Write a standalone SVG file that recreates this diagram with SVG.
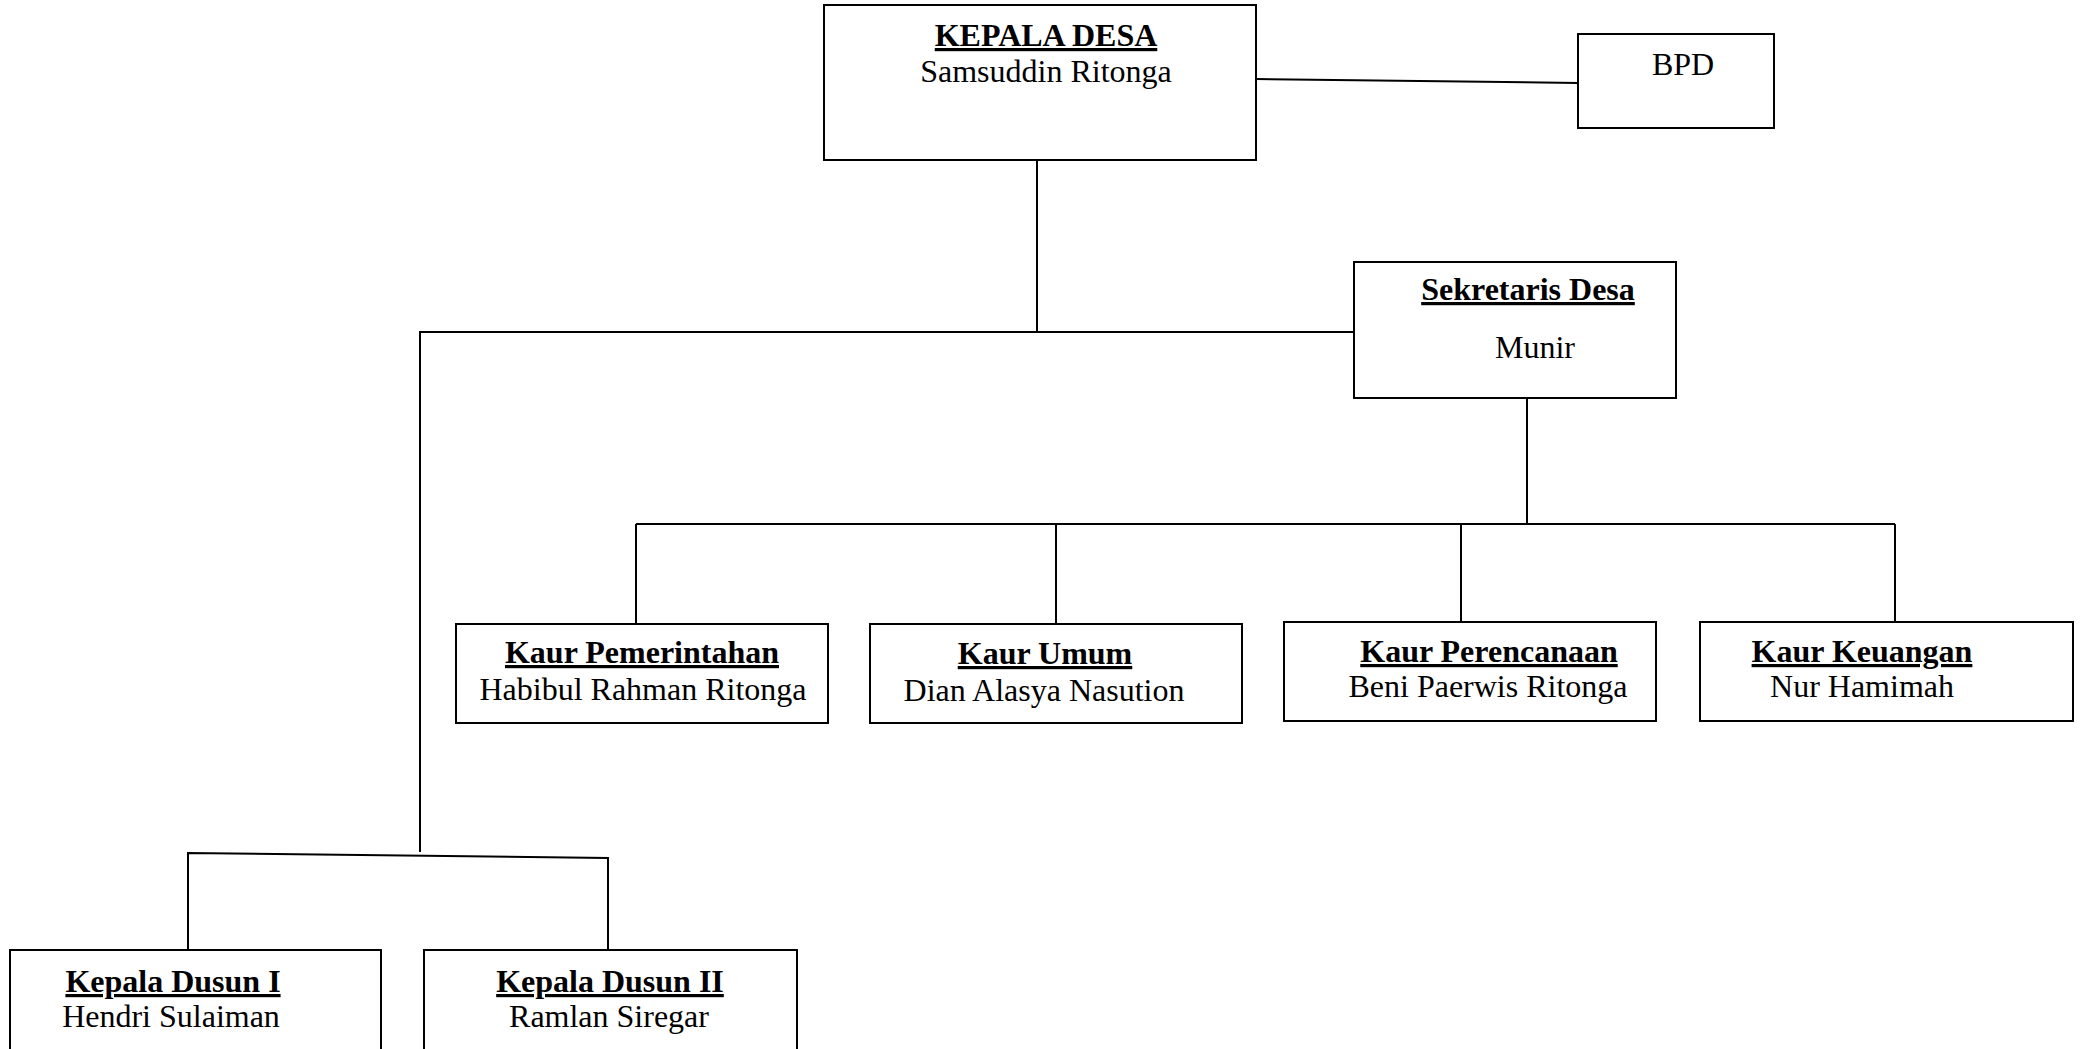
<svg xmlns="http://www.w3.org/2000/svg" width="2083" height="1049" viewBox="0 0 2083 1049">
<style>
.box{fill:#fff;stroke:#000;stroke-width:2}
.ln{fill:none;stroke:#000;stroke-width:2}
text{font-family:"Liberation Serif","Times New Roman",serif;font-size:32px;fill:#000;text-anchor:middle}
.t{font-weight:bold;text-decoration:underline}
</style>
<rect width="2083" height="1049" fill="#fff"/>
<g id="connectors">
<line class="ln" x1="1256" y1="79" x2="1578" y2="83"/>
<line class="ln" x1="1037" y1="160" x2="1037" y2="332"/>
<polyline class="ln" points="1354,332 420,332 420,852"/>
<line class="ln" x1="1527" y1="398" x2="1527" y2="524"/>
<line class="ln" x1="636" y1="524" x2="1895" y2="524"/>
<line class="ln" x1="636" y1="524" x2="636" y2="624"/>
<line class="ln" x1="1056" y1="524" x2="1056" y2="624"/>
<line class="ln" x1="1461" y1="524" x2="1461" y2="622"/>
<line class="ln" x1="1895" y1="524" x2="1895" y2="622"/>
<polyline class="ln" points="188,950 188,853 608,858 608,950"/>
</g>
<g id="kepala-desa">
<rect class="box" x="824" y="5" width="432" height="155"/>
<text class="t" x="1046" y="46">KEPALA DESA</text>
<text x="1046" y="82">Samsuddin Ritonga</text>
</g>
<g id="bpd">
<rect class="box" x="1578" y="34" width="196" height="94"/>
<text x="1683" y="75">BPD</text>
</g>
<g id="sekretaris-desa">
<rect class="box" x="1354" y="262" width="322" height="136"/>
<text class="t" x="1528" y="300">Sekretaris Desa</text>
<text x="1535" y="358">Munir</text>
</g>
<g id="kaur-pemerintahan">
<rect class="box" x="456" y="624" width="372" height="99"/>
<text class="t" x="642" y="663">Kaur Pemerintahan</text>
<text x="643" y="700">Habibul Rahman Ritonga</text>
</g>
<g id="kaur-umum">
<rect class="box" x="870" y="624" width="372" height="99"/>
<text class="t" x="1045" y="664">Kaur Umum</text>
<text x="1044" y="701">Dian Alasya Nasution</text>
</g>
<g id="kaur-perencanaan">
<rect class="box" x="1284" y="622" width="372" height="99"/>
<text class="t" x="1489" y="662">Kaur Perencanaan</text>
<text x="1488" y="697">Beni Paerwis Ritonga</text>
</g>
<g id="kaur-keuangan">
<rect class="box" x="1700" y="622" width="373" height="99"/>
<text class="t" x="1862" y="662">Kaur Keuangan</text>
<text x="1862" y="697">Nur Hamimah</text>
</g>
<g id="kepala-dusun-1">
<rect class="box" x="10" y="950" width="371" height="120"/>
<text class="t" x="173" y="992">Kepala Dusun I</text>
<text x="171" y="1027">Hendri Sulaiman</text>
</g>
<g id="kepala-dusun-2">
<rect class="box" x="424" y="950" width="373" height="120"/>
<text class="t" x="610" y="992">Kepala Dusun II</text>
<text x="609" y="1027">Ramlan Siregar</text>
</g>
</svg>
